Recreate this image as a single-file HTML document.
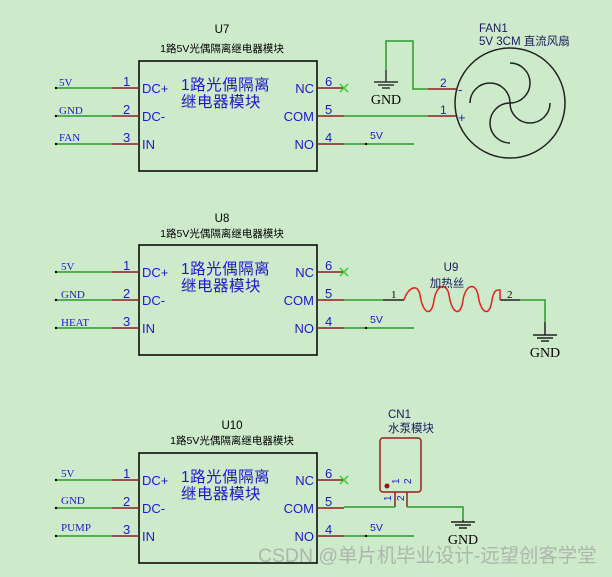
<!DOCTYPE html>
<html><head><meta charset="utf-8"><style>
html,body{margin:0;padding:0;background:#cdebcb;}
svg{display:block;}
text{font-family:"Liberation Sans","Noto Sans CJK SC",sans-serif;}
.s text, text.s{font-family:"Liberation Serif","Noto Serif CJK SC",serif;}
</style></head><body>
<svg width="612" height="577" viewBox="0 0 612 577" xmlns="http://www.w3.org/2000/svg">
<rect width="612" height="577" fill="#cdebcb"/>
<defs>
<g id="relay">
  <rect x="139" y="61" width="178" height="110" fill="none" stroke="#000" stroke-width="1.5"/>
  <g stroke-width="1.5">
    <line x1="56" y1="88" x2="112" y2="88" stroke="#2a9a2a"/>
    <line x1="112" y1="88" x2="139" y2="88" stroke="#8b2020"/>
    <line x1="56" y1="116" x2="112" y2="116" stroke="#2a9a2a"/>
    <line x1="112" y1="116" x2="139" y2="116" stroke="#8b2020"/>
    <line x1="56" y1="144" x2="112" y2="144" stroke="#2a9a2a"/>
    <line x1="112" y1="144" x2="139" y2="144" stroke="#8b2020"/>
    <line x1="317" y1="88" x2="344" y2="88" stroke="#8b2020"/>
    <line x1="317" y1="116" x2="344" y2="116" stroke="#8b2020"/>
    <line x1="317" y1="144" x2="344" y2="144" stroke="#8b2020"/>
    <line x1="340" y1="84" x2="348" y2="92" stroke="#3c3"/>
    <line x1="348" y1="84" x2="340" y2="92" stroke="#3c3"/>
  </g>
  <circle cx="56" cy="88" r="1.2" fill="#000"/><circle cx="56" cy="116" r="1.2" fill="#000"/><circle cx="56" cy="144" r="1.2" fill="#000"/>
  <g fill="#1a1acc" font-size="13">
    <text x="123" y="86">1</text><text x="123" y="114">2</text><text x="123" y="142">3</text>
    <text x="325" y="86">6</text><text x="325" y="114">5</text><text x="325" y="142">4</text>
    <text x="142" y="93">DC+</text><text x="142" y="121">DC-</text><text x="142" y="149">IN</text>
    <text x="314" y="93" text-anchor="end">NC</text><text x="314" y="121" text-anchor="end">COM</text><text x="314" y="149" text-anchor="end">NO</text>
    <text x="181" y="90" font-size="15.5" letter-spacing="0.5">1路光偶隔离</text>
    <text x="181" y="107" font-size="15.5" letter-spacing="0.5">继电器模块</text>
  </g>
  <line x1="344" y1="144" x2="414" y2="144" stroke="#2a9a2a" stroke-width="1.5"/>
  <circle cx="366" cy="144" r="1.2" fill="#000"/>
  <text x="370" y="139" font-size="10.5" fill="#1a1acc">5V</text>
</g>
</defs>

<use href="#relay"/>
<use href="#relay" y="184"/>
<use href="#relay" y="392"/>

<text x="222" y="33" font-size="11.5" text-anchor="middle">U7</text>
<text x="222" y="52" font-size="10.5" text-anchor="middle">1路5V光偶隔离继电器模块</text>
<g class="s" font-size="11" fill="#1a1acc">
<text x="59" y="86">5V</text><text x="59" y="114">GND</text><text x="59" y="141">FAN</text>
<text x="61" y="270">5V</text><text x="61" y="298">GND</text><text x="61" y="326">HEAT</text>
<text x="61" y="477">5V</text><text x="61" y="504">GND</text><text x="61" y="531">PUMP</text>
</g>

<g stroke-width="1.5" fill="none">
<polyline points="386,70 386,41 413,41 413,89 428,89" stroke="#2a9a2a"/>
<line x1="386" y1="70" x2="386" y2="82" stroke="#333"/>
<line x1="428" y1="89" x2="456" y2="89" stroke="#8b2020"/>
<line x1="344" y1="116" x2="428" y2="116" stroke="#2a9a2a"/>
<line x1="428" y1="116" x2="456" y2="116" stroke="#8b2020"/>
<line x1="374" y1="82" x2="398" y2="82" stroke="#333"/>
<line x1="378" y1="85" x2="394" y2="85" stroke="#333"/>
<line x1="382" y1="88" x2="390" y2="88" stroke="#333"/>
<circle cx="510" cy="103" r="55" stroke="#222"/>
<g stroke="#222">
<path d="M510 103 A20 20 0 1 0 510 63"/>
<path d="M510 103 A20 20 0 1 0 510 63" transform="rotate(90 510 103)"/>
<path d="M510 103 A20 20 0 1 0 510 63" transform="rotate(180 510 103)"/>
<path d="M510 103 A20 20 0 1 0 510 63" transform="rotate(270 510 103)"/>
</g>
</g>
<text x="386" y="104" class="s" font-size="14" text-anchor="middle">GND</text>
<g fill="#1a1acc" font-size="12"><text x="440" y="87">2</text><text x="440" y="114">1</text>
<text x="458" y="94" font-size="13">-</text><text x="458" y="122" font-size="13">+</text></g>
<text x="479" y="32" font-size="11.5" fill="#1a1a5a">FAN1</text>
<text x="479" y="45" font-size="11.5" fill="#1a1a5a">5V 3CM 直流风扇</text>

<text x="222" y="222" font-size="11.5" text-anchor="middle">U8</text>
<text x="222" y="237" font-size="10.5" text-anchor="middle">1路5V光偶隔离继电器模块</text>
<g stroke-width="1.5" fill="none">
<line x1="344" y1="300" x2="383" y2="300" stroke="#2a9a2a"/>
<line x1="383" y1="300" x2="404" y2="300" stroke="#222"/>
<line x1="500" y1="300" x2="520" y2="300" stroke="#222"/>
<polyline points="520,300 545,300 545,322" stroke="#2a9a2a"/>
<line x1="545" y1="322" x2="545" y2="335" stroke="#222"/>
<line x1="533" y1="335" x2="557" y2="335" stroke="#222"/>
<line x1="537" y1="338" x2="553" y2="338" stroke="#222"/>
<line x1="541" y1="341" x2="549" y2="341" stroke="#222"/>
<path d="M404 300 C408 287,418 283,420 295 C423 315,432 317,434 300 C437 283,447 283,449 295 C452 315,461 317,463 300 C466 283,476 283,478 295 C481 315,490 317,492 300 C494 289,497 290,500 290 L500 300" stroke="#e82020"/>
</g>
<g class="s" font-size="11"><text x="391" y="298">1</text><text x="507" y="298">2</text></g>
<text x="545" y="357" class="s" font-size="14" text-anchor="middle">GND</text>
<text x="451" y="271" font-size="11.5" fill="#1a1a5a" text-anchor="middle">U9</text>
<text x="447" y="287" font-size="11.5" fill="#1a1a5a" text-anchor="middle">加热丝</text>

<text x="232" y="429" font-size="11.5" text-anchor="middle">U10</text>
<text x="232" y="444" font-size="10.5" text-anchor="middle">1路5V光偶隔离继电器模块</text>
<text x="388" y="418" font-size="11.5" fill="#1a1a5a">CN1</text>
<text x="388" y="432" font-size="11.5" fill="#1a1a5a">水泵模块</text>
<g stroke-width="1.5" fill="none">
<rect x="380" y="438" width="41" height="54" rx="3" stroke="#9a2020"/>
<line x1="395" y1="492" x2="395" y2="507" stroke="#8b2020"/>
<line x1="407" y1="492" x2="407" y2="507" stroke="#8b2020"/>
<line x1="344" y1="507" x2="395" y2="507" stroke="#2a9a2a"/>
<polyline points="407,507 463,507 463,520" stroke="#2a9a2a"/>
<line x1="463" y1="520" x2="463" y2="522" stroke="#222"/>
<line x1="451" y1="522" x2="475" y2="522" stroke="#222"/>
<line x1="455" y1="525" x2="471" y2="525" stroke="#222"/>
<line x1="459" y1="528" x2="467" y2="528" stroke="#222"/>
</g>
<circle cx="387" cy="486" r="2.5" fill="#9a1010"/>
<g fill="#1a1acc" font-size="10">
<text transform="translate(399,484) rotate(-90)">1</text>
<text transform="translate(411,484) rotate(-90)">2</text>
<text transform="translate(391,501) rotate(-90)">1</text>
<text transform="translate(404,501) rotate(-90)">2</text>
</g>
<text x="463" y="544" class="s" font-size="14" text-anchor="middle">GND</text>

<text x="258" y="562" font-size="19.4" fill="#a8b0a8" fill-opacity="0.9">CSDN @单片机毕业设计-远望创客学堂</text>
</svg>
</body></html>
